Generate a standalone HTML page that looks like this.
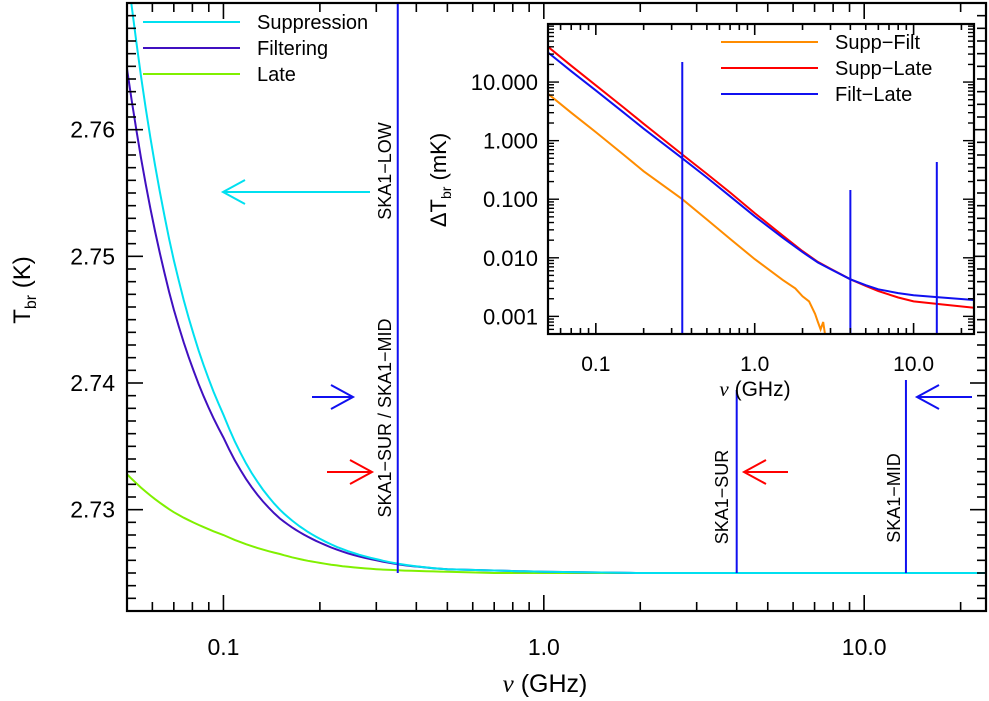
<!DOCTYPE html>
<html><head><meta charset="utf-8"><style>
html,body{margin:0;padding:0;background:#fff;}
svg{display:block;font-family:"Liberation Sans","DejaVu Sans",sans-serif;}
</style></head><body>
<svg id="chart" width="989" height="701" viewBox="0 0 989 701" xmlns="http://www.w3.org/2000/svg"></svg>
<script>
// ---- main plot data ----
const mainFreq = [0.05,0.07,0.1,0.15,0.2,0.3,0.5,0.7,1,2,5,10,24];
const suppT    = [2.7728,2.7497,2.7375,2.7300,2.7277,2.7261,2.7253,2.7252,2.7251,2.7250,2.7250,2.7250,2.7250];
const filtT    = [2.7648,2.7458,2.7357,2.7293,2.7274,2.7260,2.7253,2.7252,2.7251,2.7250,2.7250,2.7250,2.7250];
const lateT    = [2.7328,2.7298,2.7280,2.7265,2.7258,2.7253,2.7251,2.7250,2.7250,2.7250,2.7250,2.7250,2.7250];
const mainYTicks = [2.73,2.74,2.75,2.76];
const mainXTicks = [0.1,1,10];
const mainXTickLabels = ["0.1","1.0","10.0"];
const bandFreq = [0.35,4,13.5];
// ---- inset data ----
const insFreq = [0.05,0.07,0.1,0.15,0.2,0.35,0.5,0.7,1,1.5,2,2.5,3,4,5,6,8,10,15,24];
const suppLate = [40,19,8.8,3.66,1.94,0.58,0.27,0.13,0.058,0.024,0.013,0.0085,0.0065,0.0043,0.0033,0.0027,0.0021,0.0018,0.0016,0.0014];
const filtLate = [32,15.3,7.2,3.0,1.6,0.5,0.235,0.112,0.051,0.022,0.0125,0.0083,0.0064,0.0043,0.0034,0.0029,0.0025,0.0023,0.0021,0.0019];
const sfFreq = [0.05,0.07,0.1,0.15,0.2,0.35,0.5,0.7,1,1.5,1.8,2,2.2,2.4,2.5,2.6,2.7,2.8];
const suppFilt = [6.3,3.0,1.4,0.57,0.3,0.1,0.045,0.021,0.0095,0.0042,0.0030,0.0022,0.0018,0.0011,0.0008,0.0006,0.0008,0.0004];
const insYTicks = [0.001,0.01,0.1,1,10];
const insYTickLabels = ["0.001","0.010","0.100","1.000","10.000"];
const insXTicks = [0.1,1,10];
const insXTickLabels = ["0.1","1.0","10.0"];

const NS="http://www.w3.org/2000/svg";
const svg=document.getElementById('chart');
function mk(tag,attrs,parent){const e=document.createElementNS(NS,tag);for(const k in attrs)e.setAttribute(k,attrs[k]);(parent||svg).appendChild(e);return e;}

const M={l:127,r:986,t:3,b:611,x0:0.05,x1:24,y0:2.722,y1:2.770};
const mx=v=>M.l+(Math.log10(v)-Math.log10(M.x0))/(Math.log10(M.x1)-Math.log10(M.x0))*(M.r-M.l);
const my=v=>M.b-(v-M.y0)/(M.y1-M.y0)*(M.b-M.t);
const I={l:548,r:974,t:24,b:334,x0:0.05,x1:24,y0:0.0005,y1:98};
const ix=v=>I.l+(Math.log10(v)-Math.log10(I.x0))/(Math.log10(I.x1)-Math.log10(I.x0))*(I.r-I.l);
const iy=v=>I.b-(Math.log10(v)-Math.log10(I.y0))/(Math.log10(I.y1)-Math.log10(I.y0))*(I.b-I.t);

const defs=mk('defs',{});
const cp=mk('clipPath',{id:'mclip'},defs);mk('rect',{x:M.l,y:M.t,width:M.r-M.l,height:M.b-M.t},cp);
const cp2=mk('clipPath',{id:'iclip'},defs);mk('rect',{x:I.l,y:I.t,width:I.r-I.l,height:I.b-I.t},cp2);

function poly(xs,ys,fx,fy,color,clip,name){
  const pts=xs.map((x,i)=>fx(x).toFixed(1)+','+fy(ys[i]).toFixed(1)).join(' ');
  const p=mk('polyline',{points:pts,fill:'none',stroke:color,'stroke-width':2,'clip-path':'url(#'+clip+')'});
  
  
  return p;
}
function smoothPath(xs,ys,fx,fy,color,clip,name){
  let d='';
  for(let i=0;i<xs.length-1;i++){
    for(let k=0;k<10;k++){
      const t=k/10;
      const lx=Math.log10(xs[i])*(1-t)+Math.log10(xs[i+1])*t;
      const a=ys[i]-2.725,b=ys[i+1]-2.725;
      const v=(a>0&&b>0)?2.725+Math.pow(10,Math.log10(a)*(1-t)+Math.log10(b)*t):ys[i]*(1-t)+ys[i+1]*t;
      d+=(d?'L':'M')+fx(Math.pow(10,lx)).toFixed(1)+','+fy(v).toFixed(1);
    }
  }
  d+='L'+fx(xs[xs.length-1]).toFixed(1)+','+fy(ys[ys.length-1]).toFixed(1);
  const p=mk('path',{d:d,fill:'none',stroke:color,'stroke-width':2,'clip-path':'url(#'+clip+')'});
  
  
}

smoothPath(mainFreq,lateT,mx,my,'#80f000','mclip','late-curve');
smoothPath(mainFreq,filtT,mx,my,'#4010c0','mclip','filtering-curve');
smoothPath(mainFreq,suppT,mx,my,'#00e0f0','mclip','suppression-curve');

const bandTop=[3,390,380];
bandFreq.forEach((f,i)=>{
  const l=mk('line',{x1:mx(f),x2:mx(f),y1:bandTop[i],y2:my(2.725),stroke:'#1010f0','stroke-width':2});
  
  
});

function axisBox(A,fx,name,maj,minL){
  const r=mk('rect',{x:A.l,y:A.t,width:A.r-A.l,height:A.b-A.t,fill:'none',stroke:'#000','stroke-width':2.2});
  
  
  for(let e=-2;e<=2;e++)for(let m=1;m<10;m++){
    const v=m*Math.pow(10,e); if(v<A.x0||v>A.x1)continue;
    const x=fx(v),L=m===1?maj:minL;
    mk('line',{x1:x,x2:x,y1:A.b,y2:A.b-L,stroke:'#000','stroke-width':1.6});
    mk('line',{x1:x,x2:x,y1:A.t,y2:A.t+L,stroke:'#000','stroke-width':1.6});
  }
}
axisBox(M,mx,'main-plot-frame',16,9);
for(let v=2.722;v<=2.7701;v+=0.001){
  const vv=Math.round(v*1000)/1000;const maj=Math.abs(vv*100-Math.round(vv*100))<1e-6;
  const y=my(vv),L=maj?16:9;
  mk('line',{x1:M.l,x2:M.l+L,y1:y,y2:y,stroke:'#000','stroke-width':1.6});
  mk('line',{x1:M.r,x2:M.r-L,y1:y,y2:y,stroke:'#000','stroke-width':1.6});
}
mainYTicks.forEach(v=>{
  const t=mk('text',{x:115,y:my(v)+8,'text-anchor':'end','font-size':23});t.textContent=v.toFixed(2);
  
  
});
mainXTicks.forEach((v,i)=>{
  const t=mk('text',{x:mx(v),y:655,'text-anchor':'middle','font-size':23});t.textContent=mainXTickLabels[i];
  
  
});
let t=mk('text',{x:545,y:692,'text-anchor':'middle','font-size':25});
t.innerHTML='<tspan font-style="italic" font-family="Liberation Serif">ν</tspan> (GHz)';

t=mk('text',{x:0,y:0,'text-anchor':'middle','font-size':24,transform:'translate(30,290) rotate(-90)'});
t.innerHTML='T<tspan font-size="16" dy="6">br</tspan><tspan dy="-6"> (K)</tspan>';


[['Suppression','#00e0f0'],['Filtering','#4010c0'],['Late','#80f000']].forEach((d,i)=>{
  const y=22+i*26;
  const g=mk('g',{});
  mk('line',{x1:143,x2:240,y1:y,y2:y,stroke:d[1],'stroke-width':2},g);
  const tt=mk('text',{x:257,y:y+7,'font-size':20},g);tt.textContent=d[0];
});

function vlabel(txt,x,y,name){
  const e=mk('text',{x:0,y:0,'text-anchor':'middle','font-size':18,transform:`translate(${x},${y}) rotate(-90)`});
  e.textContent=txt;
}
vlabel('SKA1\u2212LOW',391,171,'ska1-low-label');
vlabel('SKA1\u2212SUR / SKA1\u2212MID',391,418,'ska1-sur-mid-label');
vlabel('SKA1\u2212SUR',728,497,'ska1-sur-label');
vlabel('SKA1\u2212MID',900,498,'ska1-mid-label');

function arrow(x1,x2,y,color,name){
  const g=mk('g',{stroke:color,'stroke-width':2,fill:'none'});
  
  mk('line',{x1:x1,x2:x2,y1:y,y2:y},g);
  const d=x2>x1?-1:1;
  mk('polyline',{points:`${x2+d*22},${y-12} ${x2},${y} ${x2+d*22},${y+12}`},g);
}
arrow(370,223,192,'#00e0f0','low-arrow');
arrow(312,353,397,'#1010f0','mid-arrow-left');
arrow(327,372,472,'#ff0000','sur-arrow-left');
arrow(788,744,472,'#ff0000','sur-arrow-right');
arrow(972,917,397,'#1010f0','mid-arrow-right');

mk('rect',{x:I.l,y:I.t,width:I.r-I.l,height:I.b-I.t,fill:'#fff'});
poly(sfFreq,suppFilt,ix,iy,'#ff8c00','iclip','supp-filt-line');
poly(insFreq,suppLate,ix,iy,'#ff0000','iclip','supp-late-line');
poly(insFreq,filtLate,ix,iy,'#1010f0','iclip','filt-late-line');
const iTop=[62,190,162];
[0.35,4,14].forEach((f,i)=>{
  const l=mk('line',{x1:ix(f),x2:ix(f),y1:iTop[i],y2:I.b,stroke:'#1010f0','stroke-width':2});
  
});
axisBox(I,ix,'inset-frame',11,6);
for(let e=-4;e<=2;e++)for(let m=1;m<10;m++){
  const v=m*Math.pow(10,e);if(v<I.y0||v>I.y1)continue;
  const y=iy(v),L=m===1?11:6;
  mk('line',{x1:I.l,x2:I.l+L,y1:y,y2:y,stroke:'#000','stroke-width':1.4});
  mk('line',{x1:I.r,x2:I.r-L,y1:y,y2:y,stroke:'#000','stroke-width':1.4});
}
insYTicks.forEach((v,i)=>{
  const e=mk('text',{x:538,y:iy(v)+8,'text-anchor':'end','font-size':22});e.textContent=insYTickLabels[i];
  
});
insXTicks.forEach((v,i)=>{
  const e=mk('text',{x:ix(v),y:371,'text-anchor':'middle','font-size':21});e.textContent=insXTickLabels[i];
  
});
t=mk('text',{x:755,y:396,'text-anchor':'middle','font-size':21});
t.innerHTML='<tspan font-style="italic" font-family="Liberation Serif">ν</tspan> (GHz)';

t=mk('text',{x:0,y:0,'text-anchor':'middle','font-size':22,transform:'translate(446,180) rotate(-90)'});
t.innerHTML='ΔT<tspan font-size="14" dy="5">br</tspan><tspan dy="-5"> (mK)</tspan>';

[['Supp\u2212Filt','#ff8c00'],['Supp\u2212Late','#ff0000'],['Filt\u2212Late','#1010f0']].forEach((d,i)=>{
  const y=42+i*26;
  const g=mk('g',{});
  mk('line',{x1:721,x2:818,y1:y,y2:y,stroke:d[1],'stroke-width':2},g);
  const tt=mk('text',{x:835,y:y+7,'font-size':20},g);tt.textContent=d[0];
});
</script>
</body></html>
